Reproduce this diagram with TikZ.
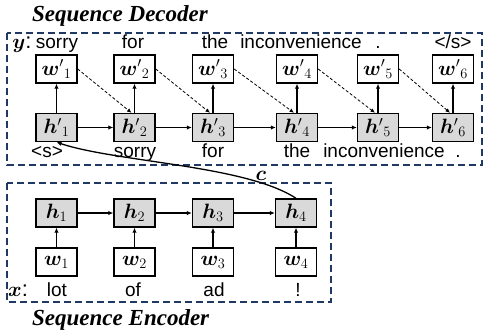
\documentclass[tikz,border=0pt]{standalone}
\usepackage{fontspec}
\setsansfont{Liberation Sans}
\newfontfamily\titlefont{Liberation Serif}
\usepackage{bm}
\usetikzlibrary{arrows.meta}
\definecolor{navy}{RGB}{31,56,100}
\definecolor{boxgray}{RGB}{217,217,217}
\begin{document}
\begin{tikzpicture}[x=1pt,y=-1pt,
  wbox/.style={draw, line width=1.4pt, minimum width=41pt, minimum height=28pt, inner sep=0pt, fill=white, font=\fontsize{22}{26}\selectfont},
  hbox/.style={wbox, fill=boxgray},
  lbl/.style={font=\sffamily\fontsize{19}{22}\selectfont, inner sep=0pt, anchor=base},
  mlbl/.style={font=\fontsize{22}{26}\selectfont, inner sep=0pt, anchor=base},
  arr/.style={-{Latex[length=5pt,width=4.5pt]}, line width=1.3pt},
  darr/.style={-{Latex[length=4.5pt,width=4pt]}, line width=0.8pt, dash pattern=on 3pt off 2pt},
  frame/.style={draw=navy, line width=1.5pt, dash pattern=on 7pt off 4pt},
  title/.style={font=\titlefont\fontsize{23}{27}\selectfont\bfseries\itshape, inner sep=0pt, anchor=base west}]
\useasboundingbox (0,0) rectangle (484,335);
% frames
\draw[frame] (7,33) rectangle (482,165);
\draw[frame] (7,183) rectangle (331,302);
% titles
\node[title] (tdec) at (32,21) {Sequence Decoder};
\node[title] (tenc) at (32,325) {Sequence Encoder};
% decoder nodes
\foreach \i/\x in {1/56.5,2/134.5,3/213,4/297,5/378,6/453}{
  \node[wbox] (wp\i) at (\x,69) {$\bm{w}'{}_{\i}$};
  \node[hbox] (hp\i) at (\x,127.5) {$\bm{h}'{}_{\i}$};
}
% encoder nodes
\foreach \i/\x in {1/56.5,2/134.5,3/213,4/296}{
  \node[hbox] (h\i) at (\x,213) {$\bm{h}_{\i}$};
  \node[wbox] (w\i) at (\x,262) {$\bm{w}_{\i}$};
}
% decoder arrows
\foreach \i in {1,...,6}{ \draw[arr] (hp\i) -- (wp\i); }
\foreach \i/\j in {1/2,2/3,3/4,4/5,5/6}{
  \draw[arr] (hp\i) -- (hp\j);
  \draw[darr] (wp\i.east) -- ([xshift=-3pt]hp\j.north);
}
% encoder arrows
\foreach \i in {1,...,4}{ \draw[arr] (w\i) -- (h\i); }
\foreach \i/\j in {1/2,2/3,3/4}{ \draw[arr] (h\i) -- (h\j); }
% context
\draw[arr] (h4.north) .. controls +(-50,-33) and +(60,20) .. (hp1.south);
\node[mlbl] (c) at (261,180) {$\bm{c}$};
% top labels
\node[mlbl] (ylab) at (22,48) {$\bm{y}$\textsf{:}};
\node[lbl] (t1) at (57,48) {sorry};
\node[lbl] (t2) at (133,48) {for};
\node[lbl] (t3) at (215,48) {the};
\node[lbl] (t4) at (301,48) {inconvenience};
\node[lbl] (t5) at (378,48) {.};
\node[lbl] (t6) at (453,48) {</s>};
% bottom labels
\node[lbl] (b1) at (47,157) {<s>};
\node[lbl] (b2) at (135,157) {sorry};
\node[lbl] (b3) at (213,157) {for};
\node[lbl] (b4) at (297,157) {the};
\node[lbl] (b5) at (384,157) {inconvenience};
\node[lbl] (b6) at (458,157) {.};
% encoder labels
\node[mlbl] (xlab) at (18,296) {$\bm{x}$\textsf{:}};
\node[lbl] (e1) at (57,296) {lot};
\node[lbl] (e2) at (133,296) {of};
\node[lbl] (e3) at (214,296) {ad};
\node[lbl] (e4) at (298,296) {!};
\end{tikzpicture}
\end{document}
